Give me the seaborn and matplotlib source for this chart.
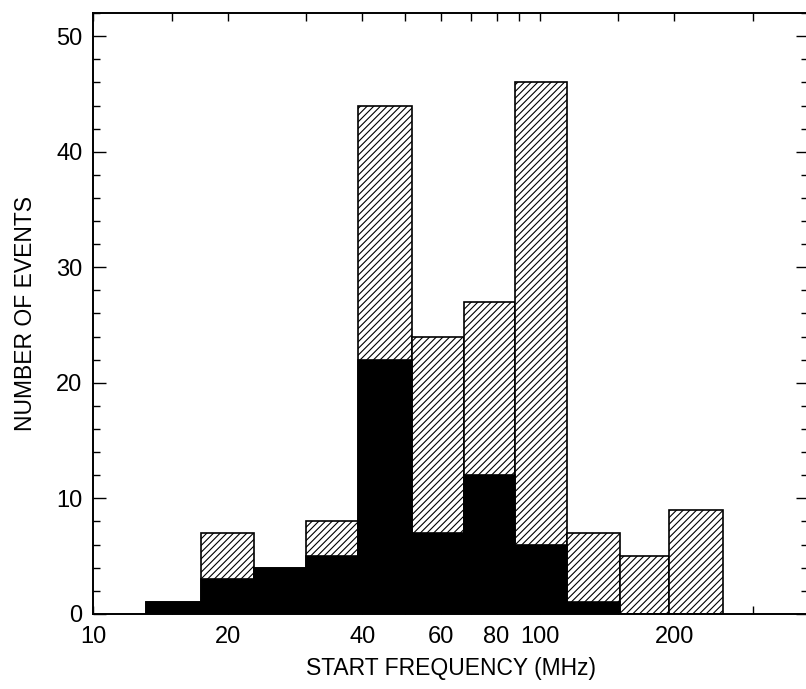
import numpy as np
import pandas as pd
import matplotlib
matplotlib.use("Agg")
import matplotlib.pyplot as plt
import seaborn as sns
from matplotlib.ticker import FixedLocator, FixedFormatter, MultipleLocator

# ---- data ----
bin_edges_mhz = [13.1, 17.4, 22.9, 29.9, 39.2, 51.8, 67.5, 87.8, 115, 151, 195, 258]
total_events = [1, 7, 4, 8, 44, 24, 27, 46, 7, 5, 9]
black_events = [1, 3, 4, 5, 22, 7, 12, 6, 1, 0, 0]
xtick_values = [10, 20, 40, 60, 80, 100, 200]
xtick_labels = ["10", "20", "40", "60", "80", "100", "200"]
xtick_minor = [15, 30, 50, 70, 90, 150, 300]
ytick_values = [0, 10, 20, 30, 40, 50]

edges = np.array(bin_edges_mhz, dtype=float)
centers = np.sqrt(edges[:-1] * edges[1:])
df = pd.DataFrame({"freq": centers, "total": total_events, "black": black_events})

sns.set_style("ticks")
plt.rcParams["font.family"] = ["Liberation Sans", "DejaVu Sans"]
plt.rcParams["hatch.linewidth"] = 0.8
plt.rcParams["hatch.color"] = "black"
plt.rcParams["text.color"] = "black"
plt.rcParams["axes.labelcolor"] = "black"

fig = plt.figure(figsize=(8.06, 6.89), dpi=100)
ax = fig.add_axes([0.116, 0.109, 0.887, 0.872])

log_bins = [float(v) for v in np.log10(edges)]
sns.histplot(data=df, x="freq", weights="total", bins=log_bins, log_scale=True,
             element="bars", fill=True, color="white", edgecolor="black",
             hatch="/////", linewidth=1.2, alpha=1, ax=ax)
sns.histplot(data=df, x="freq", weights="black", bins=log_bins, log_scale=True,
             element="bars", fill=True, color="black", edgecolor="black",
             linewidth=1.2, alpha=1, ax=ax)

ax.set_xlim(10, 400)
ax.set_ylim(0, 52)

ax.xaxis.set_major_locator(FixedLocator(xtick_values))
ax.xaxis.set_major_formatter(FixedFormatter(xtick_labels))
ax.xaxis.set_minor_locator(FixedLocator(xtick_minor))
ax.xaxis.set_minor_formatter(FixedFormatter([""] * len(xtick_minor)))
ax.yaxis.set_major_locator(FixedLocator(ytick_values))
ax.yaxis.set_minor_locator(MultipleLocator(2))

ax.tick_params(axis="both", which="both", direction="in", top=True, right=True,
               colors="black", labelcolor="black", width=1.0)
ax.tick_params(axis="y", which="major", length=9, labelsize=17, pad=8)
ax.tick_params(axis="y", which="minor", length=5)
ax.tick_params(axis="x", which="major", length=6, labelsize=17, pad=9)
ax.tick_params(axis="x", which="minor", length=6)

for s in ax.spines.values():
    s.set_linewidth(1.4)
    s.set_color("black")

ax.set_xlabel("START FREQUENCY (MHz)", fontsize=16.5, labelpad=6, color="black")
ax.set_ylabel("NUMBER OF EVENTS", fontsize=16.5, labelpad=14, color="black")

fig.savefig("out.png", dpi=100)
